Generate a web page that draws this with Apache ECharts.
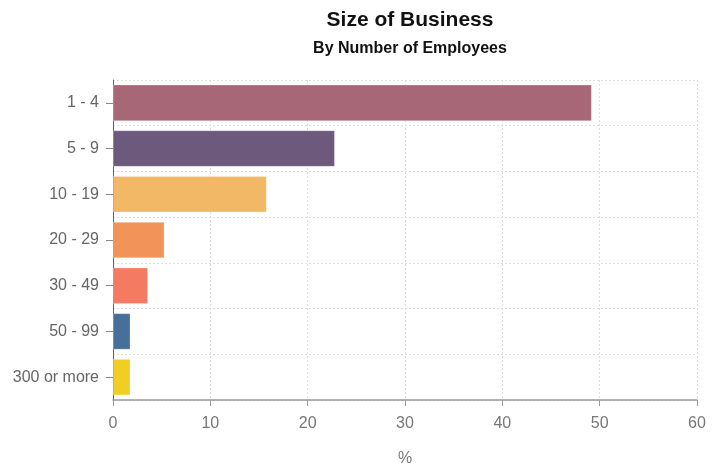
<!DOCTYPE html>
<html>
<head>
<meta charset="utf-8">
<script src="https://cdn.jsdelivr.net/npm/echarts@6/dist/echarts.min.js"></script>
<style>
  html, body { margin: 0; padding: 0; background: #fff; }
  #chart { width: 720px; height: 465px; }
</style>
</head>
<body>
<div id="chart"></div>
<script>
// Share of businesses by employee-count band (%)
const categories = ['1 - 4', '5 - 9', '10 - 19', '20 - 29', '30 - 49', '50 - 99', '300 or more'];
const shares = [49.2, 22.8, 15.8, 5.3, 3.6, 1.8, 1.8];
const barColors = ['#a86777', '#6c597c', '#f2b866', '#f2935a', '#f57a62', '#46709a', '#f2cd22'];
const xTicks = [0, 10, 20, 30, 40, 50, 60];

const font = '"Liberation Sans", Arial, sans-serif';
const chart = echarts.init(document.getElementById('chart'));

chart.setOption({
  animation: false,
  title: {
    text: 'Size of Business',
    subtext: 'By Number of Employees',
    left: 405,
    textAlign: 'center',
    top: 5,
    itemGap: 10,
    textStyle: { fontFamily: font, fontSize: 21, fontWeight: 'bold', color: '#111' },
    subtextStyle: { fontFamily: font, fontSize: 16, fontWeight: 'bold', color: '#111' }
  },
  grid: { left: 113, right: 23, top: 80, bottom: 65, containLabel: false, outerBoundsMode: 'none' },
  xAxis: {
    type: 'value',
    min: xTicks[0],
    max: xTicks[xTicks.length - 1],
    interval: 10,
    name: '%',
    nameLocation: 'middle',
    nameGap: 51,
    nameTextStyle: { fontFamily: font, fontSize: 16, color: '#777' },
    axisLine: { show: true, lineStyle: { color: '#999', width: 1.5 } },
    axisTick: { show: true, length: 6, lineStyle: { color: '#999' } },
    axisLabel: { fontFamily: font, fontSize: 16, color: '#777', margin: 16 },
    splitLine: { show: true, lineStyle: { color: '#ddd', type: [2, 2] } }
  },
  yAxis: {
    type: 'category',
    data: categories,
    inverse: true,
    axisLine: { show: true, lineStyle: { color: '#666', width: 1 } },
    axisTick: { show: true, length: 7, alignWithLabel: true, lineStyle: { color: '#888' } },
    axisLabel: { fontFamily: font, fontSize: 16, color: '#666', margin: 14 },
    splitLine: { show: true, lineStyle: { color: '#ddd', type: [2, 2] } }
  },
  series: [{
    type: 'bar',
    data: shares.map((v, i) => ({ value: v, itemStyle: { color: barColors[i] } })),
    barCategoryGap: '20%',
    itemStyle: { borderColor: 'rgba(255,255,255,0.25)', borderWidth: 1 }
  }]
});
</script>
</body>
</html>
